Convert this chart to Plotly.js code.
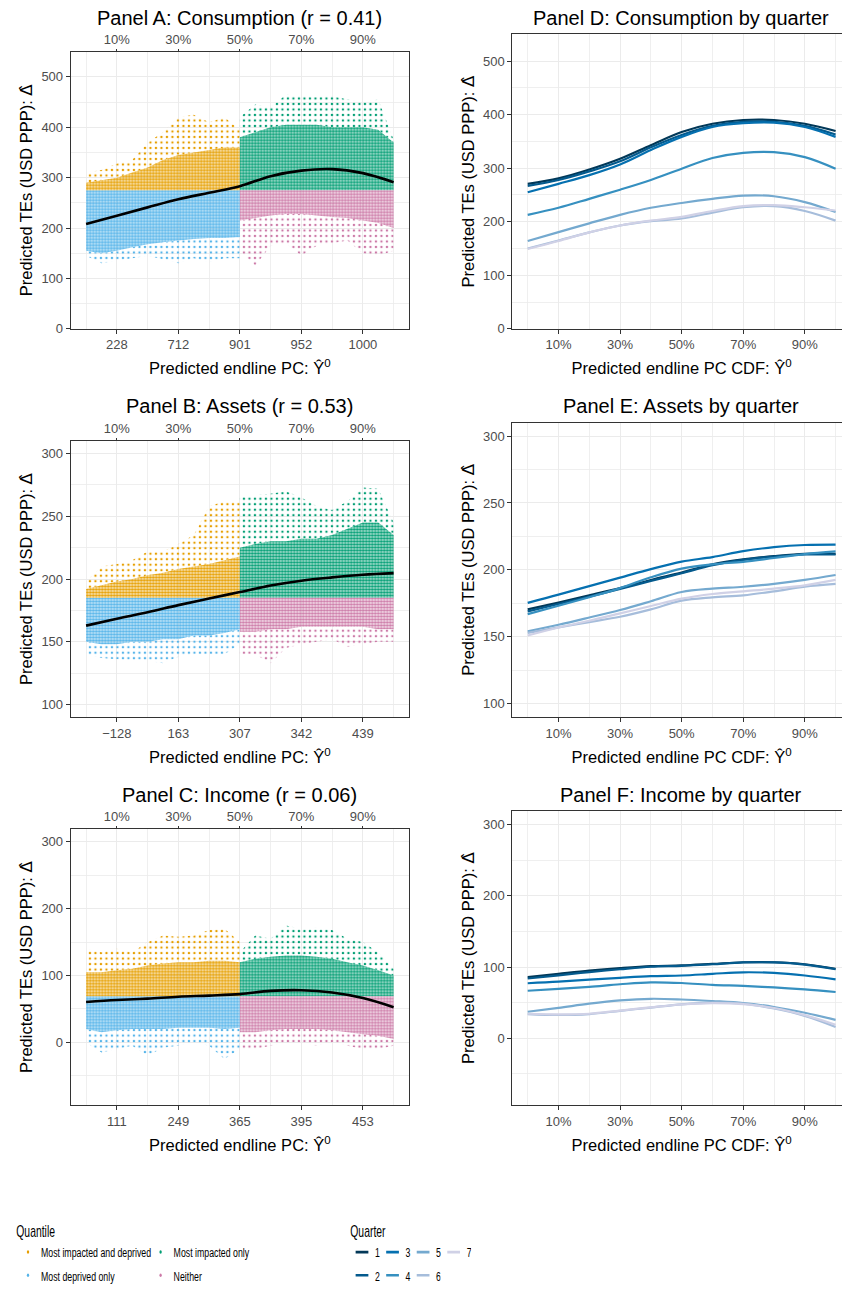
<!DOCTYPE html>
<html>
<head>
<meta charset="utf-8">
<script src="https://cdn.plot.ly/plotly-3.0.1.min.js"></script>
<style>
html, body { margin:0; padding:0; background:#fff; overflow:hidden; }
#wrap { width:842px; height:1291px; overflow:hidden; position:relative; }
#plot { width:851px; height:1291px; }
</style>
</head>
<body>
<div id="wrap"><div id="plot"></div></div>
<script>
// ---------- data ----------
const pctTickVals = [10, 30, 50, 70, 90];
const pctTickText = ['10%', '30%', '50%', '70%', '90%'];
const pctMinor = [0, 20, 40, 60, 80, 100];
const aBottomTicks = ['228', '712', '901', '952', '1000'];
const bBottomTicks = ['\u2212128', '163', '307', '342', '439'];
const cBottomTicks = ['111', '249', '365', '395', '453'];

const leftBins  = [0, 5, 10, 15, 20, 25, 30, 35, 40, 45, 50];
const rightBins = [50, 55, 60, 65, 70, 75, 80, 85, 90, 95, 100];
const smoothX   = [0, 10, 20, 30, 40, 50, 60, 70, 80, 90, 100];

// Panel A: Consumption (point-cloud envelopes per group)
const aThreshold      = 275;
const aBlueEdgeLow    = [145, 130, 135, 140, 145, 138, 130, 140, 132, 140, 140];
const aBlueCoreLow    = [155, 150, 155, 162, 168, 172, 175, 178, 180, 180, 182];
const aOrangeEdgeHigh = [310, 315, 328, 335, 370, 390, 420, 425, 410, 420, 395];
const aOrangeCoreHigh = [290, 295, 300, 310, 320, 335, 345, 350, 355, 360, 360];
const aGreenEdgeHigh  = [420, 445, 440, 465, 462, 460, 462, 455, 450, 455, 375];
const aGreenCoreHigh  = [380, 390, 400, 405, 405, 405, 400, 400, 400, 395, 370];
const aPinkEdgeLow    = [155, 125, 165, 170, 145, 165, 170, 175, 150, 145, 155];
const aPinkCoreLow    = [215, 220, 225, 228, 228, 225, 222, 220, 215, 210, 200];
const aSmooth         = [208, 224.6, 241, 257, 270, 283, 303, 314, 317, 309, 291];

// Panel B: Assets
const bThreshold      = 185;
const bBlueEdgeLow    = [140, 137, 136, 135, 135, 133, 138, 140, 140, 140, 148];
const bBlueCoreLow    = [150, 148, 148, 150, 150, 152, 152, 155, 155, 157, 160];
const bOrangeEdgeHigh = [198, 210, 212, 215, 222, 222, 228, 235, 258, 262, 262];
const bOrangeCoreHigh = [192, 195, 198, 200, 203, 205, 208, 210, 212, 215, 218];
const bGreenEdgeHigh  = [265, 267, 268, 270, 265, 258, 255, 262, 273, 272, 245];
const bGreenCoreHigh  = [225, 228, 230, 230, 232, 232, 235, 240, 245, 245, 235];
const bPinkEdgeLow    = [140, 140, 133, 145, 148, 150, 152, 146, 148, 150, 150];
const bPinkCoreLow    = [158, 158, 160, 160, 162, 162, 162, 162, 162, 160, 160];
const bSmooth         = [162.9, 168.3, 173.5, 179.2, 184.5, 189.6, 194.8, 198.7, 201.3, 203.4, 204.7];

// Panel C: Income
const cThreshold      = 69;
const cBlueEdgeLow    = [0, -15, -10, -5, -20, -8, -5, 0, -5, -25, -10];
const cBlueCoreLow    = [20, 15, 18, 20, 20, 20, 22, 22, 22, 20, 22];
const cOrangeEdgeHigh = [140, 135, 140, 135, 150, 160, 158, 160, 168, 170, 150];
const cOrangeCoreHigh = [105, 105, 108, 110, 115, 118, 120, 120, 122, 122, 120];
const cGreenEdgeHigh  = [135, 160, 155, 175, 170, 172, 168, 155, 150, 135, 110];
const cGreenCoreHigh  = [120, 125, 128, 130, 130, 128, 125, 120, 115, 108, 100];
const cPinkEdgeLow    = [-10, -10, -5, 0, 0, -5, 0, -5, -10, -10, -5];
const cPinkCoreLow    = [15, 15, 18, 20, 20, 20, 18, 15, 12, 10, 5];
const cSmooth         = [60.5, 63.4, 65.5, 68.3, 70, 72.2, 77, 78, 74.6, 66.3, 52.7];

// Panels D-F: by quarter (x = CDF %)
const quarters = ['1', '2', '3', '4', '5', '6', '7'];
const dQ1 = [270.7, 281, 297.6, 317.7, 343, 367.7, 383, 390, 390, 383, 369.5];
const dQ2 = [267, 278, 294, 313, 339, 362, 379, 386.6, 386.6, 379, 363];
const dQ3 = [255, 270.7, 287, 307, 334, 358.5, 377, 384, 385, 377, 358.5];
const dQ4 = [212.8, 226, 242.7, 259.8, 278, 299, 319, 328.7, 330, 320.7, 299];
const dQ5 = [164, 180.5, 197, 212.8, 226, 235, 242.7, 248.8, 247.6, 236.6, 218];
const dQ6 = [150, 165, 180, 193, 201, 206, 217, 227, 229, 220, 202];
const dQ7 = [149, 164, 180, 193, 202, 209, 220, 229, 231, 227, 221];

const eQ1 = [170.5, 175.6, 181, 186.4, 192.5, 198, 204.2, 207.9, 210.3, 212, 212];
const eQ2 = [169, 174.5, 180, 185.8, 191.8, 197.5, 203.5, 207.5, 210, 211.5, 211.5];
const eQ3 = [175.4, 181.5, 187.9, 194.2, 200.6, 206.2, 209.6, 214, 217, 218.6, 218.9];
const eQ4 = [167, 173.2, 179.6, 186.4, 194.5, 201, 204.2, 206, 208.9, 211.8, 213.8];
const eQ5 = [154.1, 159, 164.4, 170, 176.6, 183.5, 186, 187.4, 189.6, 192.5, 196.2];
const eQ6 = [153, 157, 161, 165, 170.5, 177, 179.5, 181, 184, 187.5, 189.5];
const eQ7 = [151, 157, 162, 167.5, 173, 178.5, 182, 184, 186, 188.5, 192.5];

const fQ1 = [85.9, 90.5, 95, 98.6, 101.4, 102.3, 104.5, 106.8, 106.8, 104, 97.7];
const fQ2 = [84, 88.5, 93, 97, 100.5, 101.8, 104, 106.5, 106.5, 103.5, 97];
const fQ3 = [77.3, 79.5, 82.3, 85, 87.3, 88.2, 90.5, 92.7, 91.8, 88.2, 82.7];
const fQ4 = [66.8, 69.5, 72.3, 75.9, 78.6, 77.7, 75, 73.6, 71.4, 68.6, 65];
const fQ5 = [37.3, 42.7, 48.6, 53.2, 55.5, 54.5, 52.3, 49.5, 44, 35.9, 25.9];
const fQ6 = [34, 32.7, 34, 38.6, 43.2, 47.7, 50, 48.6, 41.8, 31.4, 16];
const fQ7 = [34.5, 33.5, 34.5, 39, 43.5, 47.5, 49.5, 48, 42.5, 32.5, 19];

const groupNames = ['Most impacted and deprived', 'Most impacted only', 'Most deprived only', 'Neither'];

// ---------- styling ----------
const C_ORANGE = '#E69F00', C_GREEN = '#009E73', C_BLUE = '#56B4E9', C_PINK = '#CC79A7';
const C_ORANGE_BG = 'rgba(230,159,0,0.22)', C_GREEN_BG = 'rgba(0,158,115,0.28)',
      C_BLUE_BG = 'rgba(86,180,233,0.32)', C_PINK_BG = 'rgba(204,121,167,0.18)';
const qColors = ['#023858', '#045a8d', '#0570b0', '#3690c0', '#74a9cf', '#a6bddb', '#d0d1e6'];
const W = 851, H = 1291;
const FONT = 'Liberation Sans, Arial, Helvetica, sans-serif';
const GRID = '#ebebeb';
const AXC = '#333333';
const LEG_SQUEEZE = 0.65;
const px = v => v / W;
const py = v => 1 - v / H;

function band(xs, lo, hi, color, bg, dense, xa, ya) {
  return {
    type: 'scatter', mode: 'none', xaxis: xa, yaxis: ya,
    x: xs.concat(xs.slice().reverse()),
    y: hi.concat(lo.slice().reverse()),
    fill: 'toself', fillcolor: 'rgba(0,0,0,0)',
    fillpattern: dense
      ? {shape: '.', fgcolor: color, bgcolor: bg, size: 3, solidity: 0.55, fillmode: 'replace'}
      : {shape: '.', fgcolor: color, bgcolor: 'rgba(0,0,0,0)', size: 5.5, solidity: 0.15, fillmode: 'replace'},
    showlegend: false, hoverinfo: 'skip'
  };
}

const traces = [];
function scatterPanel(xa, ya, thr, bEL, bCL, oEH, oCH, gEH, gCH, pEL, pCL, smooth) {
  const thrL = leftBins.map(() => thr);
  const thrR = rightBins.map(() => thr);
  traces.push(band(leftBins, bEL, bCL, C_BLUE, null, false, xa, ya));
  traces.push(band(leftBins, oCH, oEH, C_ORANGE, null, false, xa, ya));
  traces.push(band(rightBins, gCH, gEH, C_GREEN, null, false, xa, ya));
  traces.push(band(rightBins, pEL, pCL, C_PINK, null, false, xa, ya));
  traces.push(band(leftBins, bCL, thrL, C_BLUE, C_BLUE_BG, true, xa, ya));
  traces.push(band(leftBins, thrL, oCH, C_ORANGE, C_ORANGE_BG, true, xa, ya));
  traces.push(band(rightBins, thrR, gCH, C_GREEN, C_GREEN_BG, true, xa, ya));
  traces.push(band(rightBins, pCL, thrR, C_PINK, C_PINK_BG, true, xa, ya));
  traces.push({type: 'scatter', mode: 'lines', xaxis: xa, yaxis: ya, x: smoothX, y: smooth,
    line: {color: '#000000', width: 2.6, shape: 'spline', smoothing: 1}, showlegend: false, hoverinfo: 'skip'});
}
scatterPanel('x', 'y', aThreshold, aBlueEdgeLow, aBlueCoreLow, aOrangeEdgeHigh, aOrangeCoreHigh, aGreenEdgeHigh, aGreenCoreHigh, aPinkEdgeLow, aPinkCoreLow, aSmooth);
scatterPanel('x2', 'y2', bThreshold, bBlueEdgeLow, bBlueCoreLow, bOrangeEdgeHigh, bOrangeCoreHigh, bGreenEdgeHigh, bGreenCoreHigh, bPinkEdgeLow, bPinkCoreLow, bSmooth);
scatterPanel('x3', 'y3', cThreshold, cBlueEdgeLow, cBlueCoreLow, cOrangeEdgeHigh, cOrangeCoreHigh, cGreenEdgeHigh, cGreenCoreHigh, cPinkEdgeLow, cPinkCoreLow, cSmooth);
// top percentile axes need a (empty) trace to be drawn
[['x7', 'y'], ['x8', 'y2'], ['x9', 'y3']].forEach(([xa, ya]) =>
  traces.push({type: 'scatter', mode: 'markers', x: [null], y: [null], xaxis: xa, yaxis: ya, showlegend: false, hoverinfo: 'skip'}));

function quarterPanel(xa, ya, series) {
  series.forEach((s, i) => traces.push({type: 'scatter', mode: 'lines', xaxis: xa, yaxis: ya, x: smoothX, y: s,
    line: {color: qColors[i], width: 2.2, shape: 'spline', smoothing: 1}, showlegend: false, hoverinfo: 'skip'}));
}
quarterPanel('x4', 'y4', [dQ1, dQ2, dQ3, dQ4, dQ5, dQ6, dQ7]);
quarterPanel('x5', 'y5', [eQ1, eQ2, eQ3, eQ4, eQ5, eQ6, eQ7]);
quarterPanel('x6', 'y6', [fQ1, fQ2, fQ3, fQ4, fQ5, fQ6, fQ7]);

// legend entries
const grpColors = [C_ORANGE, C_GREEN, C_BLUE, C_PINK];
const grpLegend = ['legend', 'legend', 'legend2', 'legend2'];
groupNames.forEach((n, i) => traces.push({type: 'scatter', mode: 'markers', x: [null], y: [null], xaxis: 'x', yaxis: 'y',
  name: n, marker: {color: grpColors[i], size: 3.6}, legend: grpLegend[i], showlegend: true, hoverinfo: 'skip'}));
const qOrder = [0, 2, 4, 6, 1, 3, 5];
qOrder.forEach(i => traces.push({type: 'scatter', mode: 'markers', x: [null], y: [null], xaxis: 'x4', yaxis: 'y4',
  name: quarters[i], marker: {symbol: 'line-ew', size: 14, color: qColors[i], line: {width: 2.7, color: qColors[i]}},
  legend: (i % 2 === 0) ? 'legend3' : 'legend4', showlegend: true, hoverinfo: 'skip'}));

// ---------- axes ----------
const yTitle = 'Predicted TEs (USD PPP): <span style="font-family:DejaVu Sans">\u0394\u0302</span>';
const xTitleL = 'Predicted endline PC: \u0176<sup>0</sup>';
const xTitleR = 'Predicted endline PC CDF: \u0176<sup>0</sup>';
const tickFont = {size: 13, color: '#4d4d4d', family: FONT};

function xAxis(domain, anchor, ticktext, title) {
  return {domain, anchor, range: [-5, 105], tickmode: 'array', tickvals: pctTickVals, ticktext,
    ticks: 'outside', ticklen: 4, tickwidth: 1, tickcolor: AXC, tickfont: tickFont,
    showgrid: true, gridcolor: GRID, gridwidth: 1,
    minor: {tickmode: 'array', tickvals: pctMinor, showgrid: true, gridcolor: GRID, gridwidth: 0.8, ticks: ''},
    showline: true, mirror: true, linecolor: AXC, linewidth: 1, zeroline: false, fixedrange: true,
    title: {text: title, font: {size: 16.5, color: '#000', family: FONT}, standoff: 11}};
}
function topAxis(over, anchor) {
  return {overlaying: over, anchor, side: 'top', range: [-5, 105], tickmode: 'array', tickvals: pctTickVals,
    ticktext: pctTickText, ticks: 'outside', ticklen: 2, tickwidth: 1, tickcolor: AXC, tickfont: tickFont,
    showgrid: false, showline: false, zeroline: false, fixedrange: true};
}
function yAxis(domain, anchor, range, dtick, mdtick) {
  return {domain, anchor, range, tickmode: 'linear', tick0: 0, dtick,
    ticks: 'outside', ticklen: 4, tickwidth: 1, tickcolor: AXC, tickfont: tickFont,
    showgrid: true, gridcolor: GRID, gridwidth: 1,
    minor: {tick0: 0, dtick: mdtick, showgrid: true, gridcolor: GRID, gridwidth: 0.8, ticks: ''},
    showline: true, mirror: true, linecolor: AXC, linewidth: 1, zeroline: false, fixedrange: true,
    title: {text: yTitle, font: {size: 16.5, color: '#000', family: FONT}, standoff: 4}};
}

const L = [px(70.7), px(409)], R = [px(512.3), 1];
const legFont = {size: 13.5, family: FONT, color: '#000'};
const legTitleFont = {size: 16, family: FONT, color: '#000'};
const layout = {
  width: W, height: H, margin: {l: 0, r: 0, t: 0, b: 0}, paper_bgcolor: '#fff', plot_bgcolor: '#fff',
  font: {family: FONT, color: '#000'},
  xaxis: xAxis(L, 'y', aBottomTicks, xTitleL),
  xaxis2: xAxis(L, 'y2', bBottomTicks, xTitleL),
  xaxis3: xAxis(L, 'y3', cBottomTicks, xTitleL),
  xaxis4: xAxis(R, 'y4', pctTickText, xTitleR),
  xaxis5: xAxis(R, 'y5', pctTickText, xTitleR),
  xaxis6: xAxis(R, 'y6', pctTickText, xTitleR),
  xaxis7: topAxis('x', 'y'),
  xaxis8: topAxis('x2', 'y2'),
  xaxis9: topAxis('x3', 'y3'),
  yaxis:  yAxis([py(335), py(52.7)], 'x', [0, 550], 100, 50),
  yaxis2: yAxis([py(730.7), py(449.3)], 'x2', [90, 310], 50, 25),
  yaxis3: yAxis([py(1126), py(845)], 'x3', [-93.75, 318.75], 100, 50),
  yaxis4: yAxis([py(335), py(35)], 'x4', [0, 550], 100, 50),
  yaxis5: yAxis([py(730.7), py(430.7)], 'x5', [90, 310], 50, 25),
  yaxis6: yAxis([py(1126), py(826.7)], 'x6', [-93.75, 318.75], 100, 50),
  annotations: [
    ['Panel A: Consumption (r = 0.41)', 239.85, 18],
    ['Panel B: Assets (r = 0.53)', 239.85, 414],
    ['Panel C: Income (r = 0.06)', 239.85, 810],
    ['Panel D: Consumption by quarter', 681.4, 18],
    ['Panel E: Assets by quarter', 681.4, 414],
    ['Panel F: Income by quarter', 681.4, 810]
  ].map(([t, x, y]) => ({text: t, x: px(x), y: py(y), xref: 'paper', yref: 'paper', xanchor: 'center', yanchor: 'middle',
    showarrow: false, font: {size: 20, color: '#000', family: FONT}})),
  legend: {orientation: 'h', x: px(15), y: py(1239), xanchor: 'left', yanchor: 'top', bgcolor: 'rgba(0,0,0,0)',
    title: {text: 'Quantile', side: 'top', font: legTitleFont},
    font: legFont, entrywidth: 159, traceorder: 'normal'},
  legend2: {orientation: 'h', x: px(15), y: py(1284), xanchor: 'left', yanchor: 'top', bgcolor: 'rgba(0,0,0,0)',
    font: legFont, entrywidth: 159, traceorder: 'normal'},
  legend3: {orientation: 'h', x: px(349), y: py(1239), xanchor: 'left', yanchor: 'top', bgcolor: 'rgba(0,0,0,0)',
    title: {text: 'Quarter', side: 'top', font: legTitleFont},
    font: legFont, entrywidth: 2, traceorder: 'normal'},
  legend4: {orientation: 'h', x: px(349), y: py(1284), xanchor: 'left', yanchor: 'top', bgcolor: 'rgba(0,0,0,0)',
    font: legFont, entrywidth: 2, traceorder: 'normal'}
};

Plotly.newPlot('plot', traces, layout, {staticPlot: true, displayModeBar: false}).then(gd => {
  // the reference legend is set in a condensed face: compress legends horizontally
  ['legend', 'legend2', 'legend3', 'legend4'].forEach(id => {
    gd.querySelectorAll('g.' + id).forEach(g => {
      const t = g.getAttribute('transform') || '';
      g.setAttribute('transform', t + ' scale(' + LEG_SQUEEZE + ',1)');
    });
  });
});
</script>
</body>
</html>
